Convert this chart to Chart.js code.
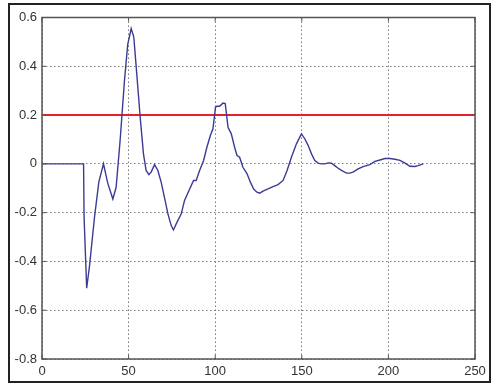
<!DOCTYPE html>
<html>
<head>
<meta charset="utf-8">
<script src="https://cdn.jsdelivr.net/npm/chart.js@4/dist/chart.umd.min.js"></script>
<style>
  html, body { margin: 0; padding: 0; background: #fff; }
  #wrap { width: 492px; height: 385px; }
</style>
</head>
<body>
<div id="wrap"><canvas id="c" width="492" height="385"></canvas></div>
<script>
// 响应曲线数据
const respX = [0, 24, 24.3, 25.8, 27.4, 30.3, 32.8, 35.5, 38, 40.9, 42.8, 45.1, 47.6, 49.5, 51.5, 53, 54.7,
  56.7, 58.6, 60.1, 61.7, 63, 65, 66.9, 68.8, 70.7, 72.7, 74.6, 75.9, 77.9, 80.4, 82.3, 84.8, 87.5, 89,
  91, 93.3, 95.2, 97.2, 98.7, 100.2, 101, 102.5, 104.5, 105.8, 107.4, 109.3, 111.2, 112.6, 114.1, 116,
  118.4, 120.3, 122.2, 124.1, 125.7, 127.6, 130.5, 133.4, 136.3, 139.2, 141.5, 144, 146.9, 149.8, 151.7,
  153.7, 155.6, 157.5, 159.4, 161.3, 163.3, 165.2, 167.1, 169, 171, 172.9, 175.8, 177.7, 179.6, 182.5,
  185.4, 189.3, 192.2, 195.1, 198, 200.9, 203.8, 206.7, 209.6, 212.4, 215.3, 217.2, 220.1];
const respY = [0, 0, -0.22, -0.51, -0.42, -0.22, -0.075, 0.0, -0.08, -0.144, -0.096, 0.096, 0.34, 0.49, 0.555, 0.52, 0.37,
  0.19, 0.04, -0.027, -0.044, -0.034, -0.003, -0.027, -0.075, -0.137, -0.205, -0.253, -0.271, -0.24, -0.205, -0.15,
  -0.11, -0.068, -0.068, -0.027, 0.014, 0.068, 0.116, 0.144, 0.233, 0.236, 0.236, 0.249, 0.247, 0.15, 0.123, 0.068,
  0.034, 0.027, -0.014, -0.041, -0.075, -0.103, -0.116, -0.12, -0.112, -0.103, -0.093, -0.085, -0.068, -0.027,
  0.027, 0.082, 0.123, 0.103, 0.075, 0.041, 0.014, 0.003, 0, 0, 0.004, 0.003, -0.007, -0.018, -0.027, -0.038,
  -0.038, -0.034, -0.021, -0.011, -0.003, 0.01, 0.016, 0.022, 0.022, 0.019, 0.014, 0.003, -0.01, -0.011, -0.007, 0];

// 红色阈值线
const refX = [0, 250];
const refY = [0.2, 0.2];

// 坐标轴刻度
const xTicks = [0, 50, 100, 150, 200, 250];
const yTicks = [0.6, 0.4, 0.2, 0, -0.2, -0.4, -0.6, -0.8];

const toPoints = (xs, ys) => xs.map((x, i) => ({ x: x, y: ys[i] }));

// 外框 + 坐标框 + 内向刻度（MATLAB 风格）
const boxPlugin = {
  id: 'box',
  afterDraw(chart) {
    const { ctx, chartArea: a, scales } = chart;
    ctx.save();
    ctx.strokeStyle = '#555';
    ctx.lineWidth = 1.5;
    ctx.strokeRect(a.left, a.top, a.right - a.left, a.bottom - a.top);
    ctx.lineWidth = 1;
    const t = 4;
    ctx.beginPath();
    xTicks.forEach(v => {
      const px = scales.x.getPixelForValue(v);
      ctx.moveTo(px, a.bottom); ctx.lineTo(px, a.bottom - t);
      ctx.moveTo(px, a.top); ctx.lineTo(px, a.top + t);
    });
    yTicks.forEach(v => {
      const py = scales.y.getPixelForValue(v);
      ctx.moveTo(a.left, py); ctx.lineTo(a.left + t, py);
      ctx.moveTo(a.right, py); ctx.lineTo(a.right - t, py);
    });
    ctx.stroke();
    // 图片外框
    ctx.strokeStyle = '#222';
    ctx.lineWidth = 2;
    ctx.strokeRect(9, 4, 481, 378);
    ctx.restore();
  }
};

new Chart(document.getElementById('c'), {
  type: 'line',
  data: {
    datasets: [
      {
        data: toPoints(respX, respY),
        borderColor: '#3b3b94',
        borderWidth: 1.4,
        pointRadius: 0,
        tension: 0
      },
      {
        data: toPoints(refX, refY),
        borderColor: '#e8202c',
        borderWidth: 2,
        pointRadius: 0,
        tension: 0
      }
    ]
  },
  options: {
    responsive: false,
    animation: false,
    layout: { padding: { left: 0, right: 17, top: 17.5, bottom: 0 } },
    plugins: { legend: { display: false }, tooltip: { enabled: false } },
    scales: {
      x: {
        type: 'linear',
        min: 0, max: 250,
        afterBuildTicks: s => { s.ticks = xTicks.map(v => ({ value: v })); },
        afterFit: s => { s.height = 26; },
        border: { display: false, dash: [1.5, 2.5] },
        grid: { color: '#7a7a7a', lineWidth: 1, drawTicks: false },
        ticks: { padding: 5, color: '#333', font: { family: 'Liberation Sans', size: 13 }, maxRotation: 0 }
      },
      y: {
        min: -0.8, max: 0.6,
        afterBuildTicks: s => { s.ticks = yTicks.map(v => ({ value: v })); },
        afterFit: s => { s.width = 42; },
        border: { display: false, dash: [1.5, 2.5] },
        grid: { color: '#7a7a7a', lineWidth: 1, drawTicks: false },
        ticks: { padding: 5, color: '#333', font: { family: 'Liberation Sans', size: 13 } }
      }
    }
  },
  plugins: [boxPlugin]
});
</script>
</body>
</html>
